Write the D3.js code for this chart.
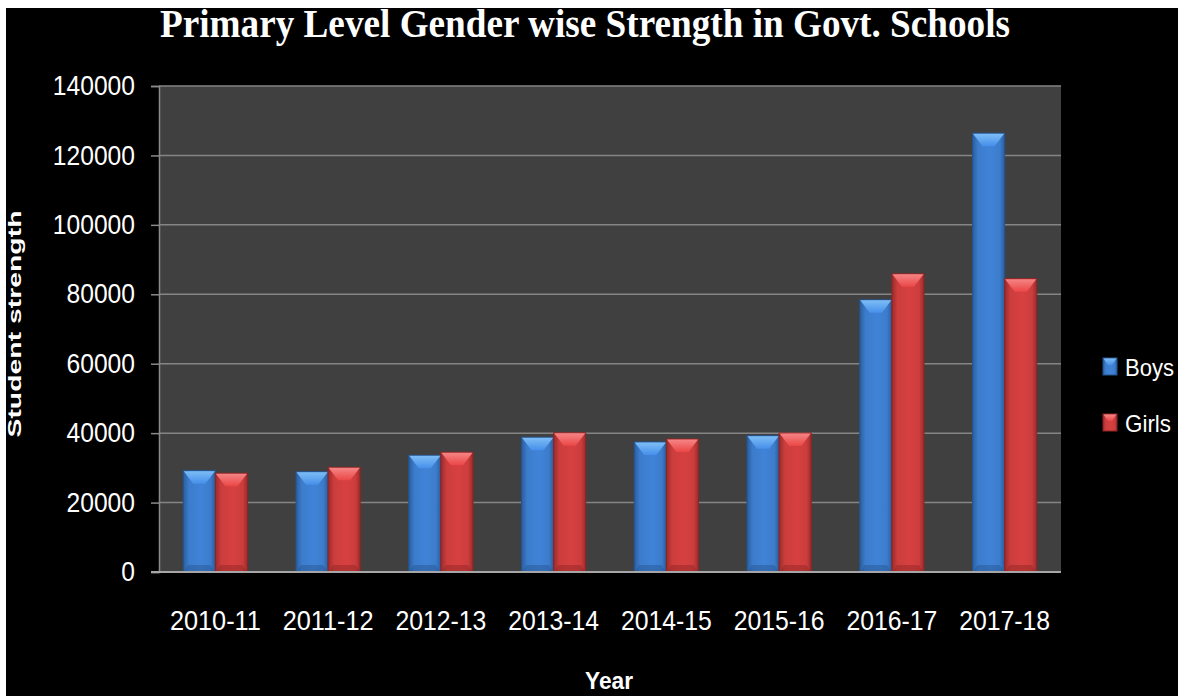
<!DOCTYPE html>
<html>
<head>
<meta charset="utf-8">
<script src="https://cdn.jsdelivr.net/npm/d3@7"></script>
<style>
  html, body { margin: 0; padding: 0; background: #000; }
  svg { display: block; }
</style>
</head>
<body>
<svg id="chart" width="1178" height="696"></svg>
<script>
'use strict';

const YEARS = ['2010-11', '2011-12', '2012-13', '2013-14', '2014-15', '2015-16', '2016-17', '2017-18'];
const BOYS  = [29200, 28900, 33600, 38800, 37450, 39250, 78400, 126400];
const GIRLS = [28450, 30150, 34500, 40100, 38300, 40050, 85900, 84500];
const SERIES = ['Boys', 'Girls'];
const Y_TICKS = [0, 20000, 40000, 60000, 80000, 100000, 120000, 140000];

const WIDTH  = 1178;
const HEIGHT = 696;
const PLOT   = { left: 159, right: 1061, top: 86, bottom: 572 };
const BEVEL  = 10;

const COLORS = {
  Boys:  { base: '#3d7ccc', light: '#7dbdf5', dark: '#24548f', edge: '#2a5d9e' },
  Girls: { base: '#cc3d3d', light: '#f58585', dark: '#8f2424', edge: '#9a2b2b' },
};

const SANS = "'Liberation Sans', Arial, sans-serif";

const svg = d3.select('#chart');

// ── Background & white strips ───────────────────────────────────
svg.append('rect').attr('width', WIDTH).attr('height', HEIGHT).attr('fill', '#000');
svg.append('rect').attr('width', WIDTH).attr('height', 8).attr('fill', '#fff');
svg.append('rect').attr('width', 6).attr('height', HEIGHT).attr('fill', '#fff');

// ── Gradients ───────────────────────────────────────────────────
const defs = svg.append('defs');
SERIES.forEach(s => {
  const c = COLORS[s];
  const body = defs.append('linearGradient').attr('id', 'body-' + s)
    .attr('x1', 0).attr('x2', 1).attr('y1', 0).attr('y2', 0);
  body.append('stop').attr('offset', '0%').attr('stop-color', c.edge);
  body.append('stop').attr('offset', '18%').attr('stop-color', c.base);
  body.append('stop').attr('offset', '55%').attr('stop-color', d3.color(c.base).brighter(0.15));
  body.append('stop').attr('offset', '85%').attr('stop-color', c.base);
  body.append('stop').attr('offset', '100%').attr('stop-color', c.edge);

  const cap = defs.append('linearGradient').attr('id', 'cap-' + s)
    .attr('x1', 0).attr('x2', 0).attr('y1', 0).attr('y2', 1);
  cap.append('stop').attr('offset', '0%').attr('stop-color', c.light);
  cap.append('stop').attr('offset', '100%').attr('stop-color', d3.color(c.base).brighter(0.4));
});

// ── Scales ──────────────────────────────────────────────────────
const x0 = d3.scaleBand()
  .domain(YEARS)
  .range([PLOT.left, PLOT.right])
  .paddingInner(0.43)
  .paddingOuter(0.215);

const x1 = d3.scaleBand()
  .domain(SERIES)
  .range([0, x0.bandwidth()]);

const y = d3.scaleLinear()
  .domain([0, 140000])
  .range([PLOT.bottom, PLOT.top]);

// ── Plot area ───────────────────────────────────────────────────
svg.append('rect')
  .attr('x', PLOT.left).attr('y', PLOT.top)
  .attr('width', PLOT.right - PLOT.left)
  .attr('height', PLOT.bottom - PLOT.top)
  .attr('fill', '#404040');

// gridlines
svg.append('g')
  .selectAll('line')
  .data(Y_TICKS.filter(t => t > 0))
  .join('line')
    .attr('x1', PLOT.left).attr('x2', PLOT.right)
    .attr('y1', d => y(d)).attr('y2', d => y(d))
    .attr('stroke', '#858585')
    .attr('stroke-width', 1.5);

// y axis
const yAxis = svg.append('g')
  .attr('transform', `translate(${PLOT.left},0)`)
  .call(d3.axisLeft(y).tickValues(Y_TICKS).tickSize(8).tickPadding(16).tickFormat(d3.format('d')));
yAxis.select('.domain').attr('stroke', '#8a8a8a').attr('stroke-width', 1.5);
yAxis.selectAll('.tick line').attr('stroke', '#8a8a8a').attr('stroke-width', 1.5);
yAxis.selectAll('.tick text')
  .attr('fill', '#fff')
  .style('font-family', SANS)
  .style('font-size', '27px')
  .attr('textLength', d => String(d).length * 13.7)
  .attr('lengthAdjust', 'spacingAndGlyphs');

// ── Bars ────────────────────────────────────────────────────────
const rows = YEARS.map((yr, i) => ({ year: yr, Boys: BOYS[i], Girls: GIRLS[i] }));

const groups = svg.append('g')
  .selectAll('g.group')
  .data(rows)
  .join('g')
    .attr('class', 'group')
    .attr('transform', d => `translate(${x0(d.year)},0)`);

const bars = groups.selectAll('g.bar')
  .data(d => SERIES.map(s => ({ series: s, value: d[s] })))
  .join('g')
    .attr('class', 'bar');

bars.each(function(d) {
  const g  = d3.select(this);
  const bx = x1(d.series);
  const bw = x1.bandwidth();
  const top = y(d.value);
  const bot = y(0);
  const bh  = 13;
  const c   = COLORS[d.series];

  g.append('rect')
    .attr('x', bx).attr('y', top)
    .attr('width', bw).attr('height', bot - top)
    .attr('fill', `url(#body-${d.series})`)
    .attr('stroke', c.dark)
    .attr('stroke-width', 1);

  // top bevel
  g.append('path')
    .attr('d', `M${bx + 0.5},${top + 0.5}L${bx + bw - 0.5},${top + 0.5}L${bx + bw - BEVEL},${top + bh}L${bx + BEVEL},${top + bh}Z`)
    .attr('fill', `url(#cap-${d.series})`);

  // bottom bevel
  g.append('path')
    .attr('d', `M${bx + 0.5},${bot}L${bx + bw - 0.5},${bot}L${bx + bw - BEVEL / 2},${bot - 7}L${bx + BEVEL / 2},${bot - 7}Z`)
    .attr('fill', c.dark)
    .attr('opacity', 0.45);
});

// x axis baseline
svg.append('line')
  .attr('x1', PLOT.left - 8).attr('x2', PLOT.right)
  .attr('y1', y(0)).attr('y2', y(0))
  .attr('stroke', '#a6a6a6')
  .attr('stroke-width', 2);

// x tick labels
svg.append('g')
  .selectAll('text')
  .data(YEARS)
  .join('text')
    .attr('x', d => x0(d) + x0.bandwidth() / 2)
    .attr('y', 630)
    .attr('text-anchor', 'middle')
    .attr('fill', '#fff')
    .style('font-family', SANS)
    .style('font-size', '27px')
    .attr('textLength', 91)
    .attr('lengthAdjust', 'spacingAndGlyphs')
    .text(d => d);

// ── Titles ──────────────────────────────────────────────────────
svg.append('text')
  .attr('x', 585).attr('y', 37)
  .attr('text-anchor', 'middle')
  .attr('fill', '#fff')
  .style('font-family', "'Liberation Serif', 'Times New Roman', serif")
  .style('font-weight', 'bold')
  .style('font-size', '41px')
  .attr('textLength', 850)
  .attr('lengthAdjust', 'spacingAndGlyphs')
  .text('Primary Level Gender wise Strength in Govt. Schools');

svg.append('text')
  .attr('transform', 'translate(21,324) rotate(-90)')
  .attr('text-anchor', 'middle')
  .attr('fill', '#fff')
  .style('font-family', SANS)
  .style('font-weight', 'bold')
  .style('font-size', '19px')
  .attr('textLength', 227)
  .attr('lengthAdjust', 'spacingAndGlyphs')
  .text('Student strength');

svg.append('text')
  .attr('x', 609).attr('y', 689)
  .attr('text-anchor', 'middle')
  .attr('fill', '#fff')
  .style('font-family', SANS)
  .style('font-weight', 'bold')
  .style('font-size', '24px')
  .attr('textLength', 48)
  .attr('lengthAdjust', 'spacingAndGlyphs')
  .text('Year');

// ── Legend ──────────────────────────────────────────────────────
const legend = svg.append('g')
  .selectAll('g')
  .data(SERIES)
  .join('g')
    .attr('transform', (d, i) => `translate(1103,${358 + i * 56})`);

legend.append('rect')
  .attr('width', 14).attr('height', 17)
  .attr('fill', d => `url(#body-${d})`)
  .attr('stroke', d => COLORS[d].dark);
legend.append('path')
  .attr('d', 'M0.5,0.5L13.5,0.5L9,7L5,7Z')
  .attr('fill', d => `url(#cap-${d})`);
legend.append('text')
  .attr('x', 22).attr('y', 18)
  .attr('fill', '#fff')
  .style('font-family', SANS)
  .style('font-size', '24px')
  .attr('textLength', d => d === 'Boys' ? 49 : 46)
  .attr('lengthAdjust', 'spacingAndGlyphs')
  .text(d => d);
</script>
</body>
</html>
